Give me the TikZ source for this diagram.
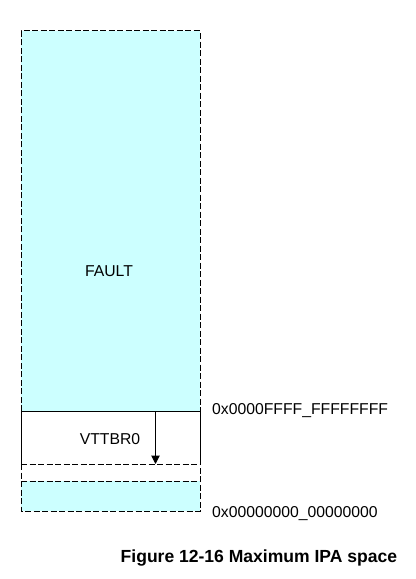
\documentclass[tikz,border=0pt]{standalone}
\usepackage{fontspec}
\setmainfont{Liberation Sans}
\usetikzlibrary{arrows.meta}
\definecolor{ipacyan}{HTML}{CCFFFF}
\begin{document}
\begin{tikzpicture}[x=1bp,y=-1bp,
  dashedge/.style={line width=1bp,dash pattern=on 6bp off 2.5bp},
  solidedge/.style={line width=1bp},
  lbl/.style={font=\fontsize{15.8}{18}\selectfont,inner sep=0pt},
  captext/.style={font=\bfseries\fontsize{17.6}{20}\selectfont,inner sep=0pt}]
\useasboundingbox (0,0) rectangle (415,579);
% fills
\fill[ipacyan] (21,31) rectangle (200,411);
\fill[ipacyan] (21,481) rectangle (200,511);
% corner coordinates
\coordinate (tl) at (21,31);
\coordinate (tr) at (200,31);
\coordinate (ml) at (21,411);
\coordinate (mr) at (200,411);
\coordinate (dl) at (21,464);
\coordinate (dr) at (200,464);
\coordinate (el) at (21,481);
\coordinate (er) at (200,481);
\coordinate (bl) at (21,511);
\coordinate (br) at (200,511);
% FAULT region
\draw[dashedge] (ml) -- (tl) -- (tr) -- (mr);
% VTTBR0 region
\draw[solidedge] (dl) -- (ml) -- (mr) -- (dr);
\draw[dashedge] (dl) -- (dr);
% gap and lower region
\draw[dashedge] (dl) -- (bl) -- (br) -- (dr);
\draw[dashedge] (el) -- (er);
% arrow
\coordinate (atop) at (155.5,411);
\coordinate (abot) at (155.5,464);
\draw[solidedge,-{Triangle[length=8.5bp,width=8.5bp]}] (atop) -- (abot);
% texts
\node[lbl] (fault) at (109,271) {FAULT};
\node[lbl] (vttbr) at (110,439) {VTTBR0};
\node[lbl,anchor=west] (hi) at (212,411) {0x0000FFFF\_FFFFFFFF};
\node[lbl,anchor=west] (lo) at (212,514) {0x00000000\_00000000};
\node[captext,anchor=west] (caption) at (120.5,558) {Figure 12-16 Maximum IPA space};
\end{tikzpicture}
\end{document}
